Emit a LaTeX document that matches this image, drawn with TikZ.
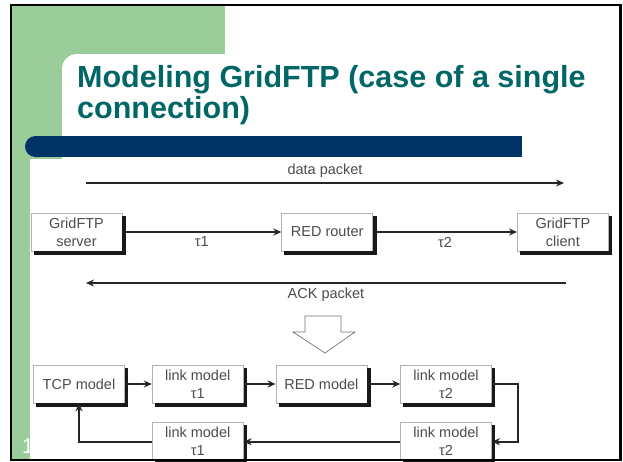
\documentclass[tikz,border=0pt]{standalone}
\usepackage{fontspec}
\setmainfont{Liberation Sans}
\usetikzlibrary{positioning, arrows.meta, calc}
\definecolor{slidegreen}{RGB}{155,205,155}
\definecolor{slidenavy}{RGB}{0,51,102}
\definecolor{slideteal}{RGB}{0,102,102}

\begin{document}
\begin{tikzpicture}[x=1pt, y=-1pt,
      box/.style={draw=gray!60, fill=white, line width=0.7pt,
                  minimum width=91pt, minimum height=38pt, inner sep=1pt,
                  font=\fontsize{14.5}{18}\selectfont, text=black!70, align=center},
      boxshade/.style={fill=black!90},
      arr/.style={-{Stealth[length=8pt, width=7pt]}, line width=2pt, black!85},
      lbl/.style={font=\fontsize{14.5}{17}\selectfont, text=black!70, inner sep=1pt}]
    \useasboundingbox (0,0) rectangle (623,461);
    \fill[white] (0,0) rectangle (623,461);
    % slide background
    \fill[slidegreen] (12,6) rectangle (225,459);
    \fill[white, rounded corners=15pt] (62,54) rectangle (660,200);
    \fill[slidenavy, rounded corners=10.5pt] (25,136) rectangle (50,157);
    \fill[slidenavy] (36,136) rectangle (522,157);
    \node[font=\fontsize{21}{21}\selectfont, text=white] (pgno) at (28,446) {1};
    \fill[white] (30,159) rectangle (612,459);
    \node[anchor=north west, inner sep=0pt, align=left, text=slideteal,
          font=\bfseries\fontsize{30.5}{31}\selectfont] (title) at (77,65)
          {Modeling GridFTP (case of a single\\connection)};
    % network
    \node[box] (srv) at (76.5,232) {GridFTP\\server};
    \node[box, right=159pt of srv] (rtr) {RED router};
    \node[box, right=144pt of rtr] (cli) {GridFTP\\client};
    \coordinate (dataL) at (86,183);
    \coordinate (dataR) at (564,183);
    \coordinate (ackR) at (566,283);
    \coordinate (ackL) at (86,283);
    \draw[arr] (dataL) -- node[lbl, above=3pt] {data packet} (dataR);
    \draw[arr] (srv) -- node[lbl, below=3pt] {τ1} (rtr);
    \draw[arr] (rtr) -- node[lbl, below=3pt] {τ2} (cli);
    \draw[arr] (ackR) -- node[lbl, below=3pt] {ACK packet} (ackL);
    \draw[line width=0.7pt, draw=black!55, fill=white]
      (305,316) -- (341,316) -- (341,332) -- (355,332) -- (325,353)
      -- (293,332) -- (305,332) -- cycle;
    % model
    \node[box] (tcp) at (79,384) {TCP model};
    \node[box, right=27pt of tcp] (lnkA) {link model\\τ1};
    \node[box, right=32pt of lnkA] (redm) {RED model};
    \node[box, right=33pt of redm] (lnkB) {link model\\τ2};
    \node[box, below=19pt of lnkB] (lnkBr) {link model\\τ2};
    \node[box, below=19pt of lnkA] (lnkAr) {link model\\τ1};
    \foreach \nm in {srv, rtr, cli, tcp, lnkA, redm, lnkB, lnkBr, lnkAr}{
      \fill[boxshade] ($(\nm.north east)+(0,3)$) rectangle ($(\nm.south east)+(3.5,3.5)$);
      \fill[boxshade] ($(\nm.south west)+(3,0)$) rectangle ($(\nm.south east)+(3.5,3.5)$);
    }
    \draw[arr] (tcp) -- (lnkA); \draw[arr] (lnkA) -- (redm);
    \draw[arr] (redm) -- (lnkB);
    \draw[arr] (lnkB.east) -- ++(26,0) |- (lnkBr.east);
    \draw[arr] (lnkBr) -- (lnkAr);
    \draw[arr] (lnkAr.west) -| (tcp.south);
    \draw[line width=2.5pt] (11,4.8) rectangle (620.5,460);
  \end{tikzpicture}
\end{document}
